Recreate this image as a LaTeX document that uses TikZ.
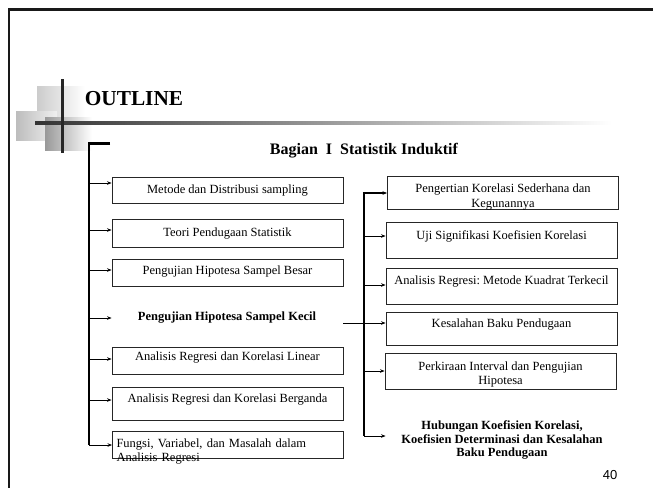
\documentclass[tikz,border=0pt]{standalone}
\usepackage{fontspec}
\setmainfont{Liberation Serif}
\newfontfamily\pagefont{Liberation Sans}
\usetikzlibrary{arrows.meta}
\frenchspacing
\begin{document}
\begin{tikzpicture}[x=1pt,y=-1pt,
  box/.style={draw=black!85, line width=0.9pt, minimum width=231pt, inner sep=2pt,
    font=\fontsize{12.5}{14.5}\selectfont, align=center},
  dp/.style={text height=9pt, text depth=#1},
  boldtxt/.style={font=\bfseries\fontsize{12.5}{13.5}\selectfont, align=center, inner sep=0pt},
  arr/.style={line width=0.8pt, -{Stealth[length=4.5pt,width=3.5pt]}},
  spine/.style={line width=2.4pt},
  frame/.style={line width=2.5pt, black!90}]
\useasboundingbox (0,0) rectangle (653,488);
% decoration
\shade[left color=black!20, right color=white] (37,86) rectangle (85,117);
\shade[left color=black!26, right color=black!6] (16,111) rectangle (57,140);
\shade[left color=black!40, right color=white] (45,117) rectangle (92,150);
\shade[left color=black!80, right color=white] (35,121.8) rectangle (612,124.2);
\fill[black!85] (60.5,79) rectangle (63.5,153);
% frame
\draw[frame] (653,9.5) -- (9,9.5) -- (9,488);
% titles
\node[font=\bfseries\fontsize{21.3}{24}\selectfont, inner sep=0pt, anchor=base] (title) at (134,105) {OUTLINE};
\node[font=\bfseries\fontsize{16}{18}\selectfont, inner sep=0pt, anchor=base] (bagian) at (364,154) {Bagian\ \ I\ \ Statistik Induktif};
% left column
\coordinate (ltop) at (89,143.5);
\coordinate (lbot) at (89,445);
\node[box, minimum height=26pt, dp=3pt] (b1) at (227.5,190) {Metode dan Distribusi sampling};
\node[box, minimum height=28pt, dp=3pt] (b2) at (227.5,233) {Teori Pendugaan Statistik};
\node[box, minimum height=27pt, dp=6pt] (b3) at (227.5,272.5) {Pengujian Hipotesa Sampel Besar};
\node[boldtxt, anchor=base] (k) at (227,320) {Pengujian Hipotesa Sampel Kecil};
\node[box, minimum height=27pt, dp=10pt] (b5) at (227.5,360.5) {Analisis Regresi dan Korelasi Linear};
\node[box, minimum height=33pt, dp=12pt] (b6) at (227.5,403.5) {Analisis Regresi dan Korelasi Berganda};
\node[box, minimum height=27pt, text width=223pt, align=left, inner ysep=0.5pt,
      text height=15.5pt, text depth=10.5pt] (b7) at (228,444.5) {Fungsi, Variabel, dan Masalah dalam\\Analisis Regresi};
\draw[spine] (110,143.5) -- (ltop) -- (lbot);
\draw[arr] (ltop |- 0,183) -- (b1.west |- 0,183);
\draw[arr] (ltop |- 0,230) -- (b2.west |- 0,230);
\draw[arr] (ltop |- 0,270) -- (b3.west |- 0,270);
\draw[arr] (ltop |- 0,318) -- (b1.west |- 0,318);
\draw[arr] (ltop |- 0,359) -- (b5.west |- 0,359);
\draw[arr] (ltop |- 0,400) -- (b6.west |- 0,400);
\draw[arr] (lbot) -- (b7.west |- lbot);
% right column
\node[box, minimum height=33pt, inner ysep=1.5pt, text height=29.5pt, text depth=0.5pt] (r1) at (503,192.5) {Pengertian Korelasi Sederhana dan\\Kegunannya};
\node[box, minimum height=36pt, dp=11pt] (r2) at (501.5,240) {Uji Signifikasi Koefisien Korelasi};
\node[box, minimum height=36pt, dp=13pt] (r3) at (501.5,286) {Analisis Regresi: Metode Kuadrat Terkecil};
\node[box, minimum height=33pt, dp=12pt] (r4) at (501.5,328.5) {Kesalahan Baku Pendugaan};
\node[box, minimum height=33pt, text height=29pt] (r5) at (500.5,371.5) {Perkiraan Interval dan Pengujian\\Hipotesa};
\node[boldtxt] (r6) at (502,440) {Hubungan Koefisien Korelasi,\\Koefisien Determinasi dan Kesalahan\\Baku Pendugaan};
\coordinate (rtop) at (364,193);
\coordinate (rbot) at (364,436);
\draw[spine] (rtop) -- (rbot);
\draw[arr, line width=1.6pt] ([xshift=-1.2pt]rtop) -- (r1.west |- rtop);
\draw[arr] (rtop |- 0,236) -- (r2.west |- 0,236);
\draw[arr] (rtop |- 0,285) -- (r3.west |- 0,285);
\draw[arr] (b1.east |- 0,323) -- (r4.west |- 0,323);
\draw[arr] (rtop |- 0,371) -- (r5.west |- 0,371);
\draw[arr] (rbot) -- (r4.west |- rbot);
% page number
\node[font=\pagefont\fontsize{13}{15}\selectfont, inner sep=0pt] (pg) at (610,475) {40};
\end{tikzpicture}
\end{document}
